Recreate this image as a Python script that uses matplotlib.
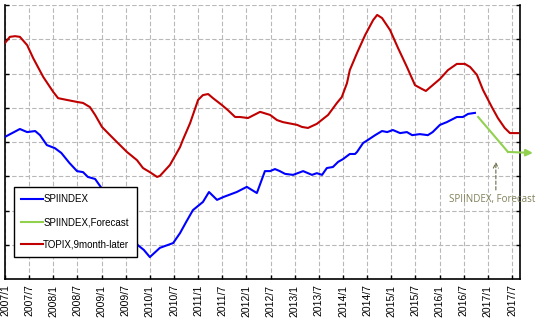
import numpy as np
import matplotlib
matplotlib.use("Agg")
import matplotlib.pyplot as plt

# months counted from 2007/1
spi_month = [0, 3.7, 5.5, 7.5, 8.7, 10.4, 12.4, 14, 16, 17.9, 19.4, 20.6, 22.4, 23.6,
             26, 29, 31, 33, 34.5, 36, 38.5, 41.8, 43.5, 45, 46.7, 49.2, 50.7, 52.7,
             54.2, 57.6, 60.1, 62.6, 64.6, 65.9, 67.1, 68.3, 69.6, 71.6, 74.1, 76.3,
             77.5, 78.8, 80.0, 81.5, 82.8, 84.0, 85.7, 87.0, 87.5, 89.0, 90.2, 92.0,
             93.7, 95.0, 96.4, 98.2, 99.9, 101.2, 103.1, 105.1, 106.3, 108.1, 109.8,
             112.3, 113.8, 115.1, 116.8]
spi_value = [4.15, 4.38, 4.29, 4.32, 4.20, 3.91, 3.82, 3.68, 3.39, 3.15, 3.12, 2.98, 2.92, 2.72,
             2.31, 1.72, 1.37, 0.99, 0.85, 0.64, 0.91, 1.05, 1.34, 1.66, 2.01, 2.25, 2.54, 2.31,
             2.39, 2.54, 2.69, 2.51, 3.15, 3.15, 3.21, 3.15, 3.07, 3.04, 3.15, 3.04,
             3.09, 3.04, 3.24, 3.27, 3.42, 3.50, 3.65, 3.65, 3.71, 3.97, 4.06, 4.20,
             4.32, 4.29, 4.35, 4.26, 4.29, 4.20, 4.23, 4.20, 4.29, 4.50, 4.58,
             4.73, 4.73, 4.82, 4.85]

fc_month = [117.6, 125.0, 131.2]
fc_value = [4.73, 3.71, 3.68]

topix_month = [0, 1.2, 2.5, 3.7, 5.5, 7, 9.5, 12, 13.2, 15.3, 17.9, 19.4, 21.1, 22.4, 24.1,
               26.1, 27.8, 30.3, 32.8, 34.3, 36, 37.8, 38.5, 41, 43.5, 44.2, 46, 48, 49.2,
               50.5, 51.7, 53.9, 55.4, 57.2, 58.4, 60.4, 63.4, 65.9, 67.6, 69.1, 72.6, 73.8,
               75.3, 77.5, 80.3, 82.5, 83.7, 85, 85.7, 87.5, 89.5, 91.5, 92.5, 93.7, 95.7,
               97.7, 99.9, 101.9, 103.6, 104.6, 106.1, 108.1, 110.1, 112.3, 114.3, 115.6,
               117.3, 118.8, 121, 122.5, 124.2, 125.5, 127.5]
topix_value = [6.89, 7.07, 7.09, 7.07, 6.83, 6.45, 5.90, 5.46, 5.28, 5.23, 5.17, 5.14, 5.02, 4.79, 4.44,
               4.20, 4.00, 3.71, 3.47, 3.24, 3.12, 2.98, 3.01, 3.33, 3.85, 4.06, 4.55, 5.23, 5.37,
               5.40, 5.28, 5.08, 4.93, 4.73, 4.73, 4.70, 4.88, 4.79, 4.64, 4.58, 4.50, 4.44,
               4.41, 4.53, 4.79, 5.14, 5.31, 5.72, 6.10, 6.60, 7.12, 7.56, 7.71, 7.62, 7.27,
               6.74, 6.19, 5.66, 5.55, 5.49, 5.64, 5.84, 6.10, 6.28, 6.28, 6.19,
               5.96, 5.52, 5.02, 4.70, 4.41, 4.26, 4.26]

tick_labels = [f"{2007 + i // 2}/{1 if i % 2 == 0 else 7}" for i in range(22)]
tick_pos = [6 * i for i in range(22)]

plt.rcParams['font.family'] = ['Liberation Sans', 'DejaVu Sans']

fig = plt.figure(figsize=(5.37, 3.25), dpi=100)
ax = fig.add_axes([5 / 537, 46 / 325, 515 / 537, 274 / 325])

ax.plot(spi_month, spi_value, color='#0000ff', lw=1.5, label='SPIINDEX', zorder=3)
ax.plot(fc_month[:-1], fc_value[:-1], color='#92d050', lw=1.5, label='SPIINDEX,Forecast',
        zorder=3, clip_on=False)
ax.annotate('', xy=(fc_month[-1], fc_value[-1]), xytext=(fc_month[-2], fc_value[-2]),
            arrowprops=dict(arrowstyle='-|>', color='#92d050', lw=1.5,
                            shrinkA=0, shrinkB=0, mutation_scale=10),
            annotation_clip=False, zorder=3)
ax.plot(topix_month, topix_value, color='#c00000', lw=1.5, label='TOPIX,9month-later', zorder=3)

# forecast note with dashed pointer
ax.text(121.2, 2.33, 'SPIINDEX, Forecast', ha='center', va='center', fontsize=7,
        color='#80805a', family=['Open Sans', 'DejaVu Sans'])
ax.annotate('', xy=(122.0, 3.42), xytext=(122.0, 2.6),
            arrowprops=dict(arrowstyle='->', color='#6b6b45', lw=0.8, ls=(0, (3, 2)),
                            shrinkA=0, shrinkB=0, mutation_scale=9))

ax.set_xlim(0, 128)
ax.set_ylim(0, 8)
ax.set_xticks(tick_pos)
ax.set_xticklabels(tick_labels, rotation=90, fontsize=7.5)
ax.set_yticks(range(1, 9))
ax.set_yticklabels([])
ax.tick_params(axis='both', direction='in', length=3, width=1, color='black')
ax.tick_params(axis='y', right=True)
ax.tick_params(axis='x', pad=4)

ax.grid(True, color='#b8b8b8', lw=0.8, ls=(0, (4, 2)))
ax.spines['top'].set_visible(False)
for s in ['left', 'bottom', 'right']:
    ax.spines[s].set_linewidth(1.2)
    ax.spines[s].set_color('black')

leg = ax.legend(loc='lower left', bbox_to_anchor=(9 / 515, 22 / 274), fontsize=7,
                frameon=True, fancybox=False, edgecolor='black', framealpha=1,
                handlelength=2.2, handletextpad=0.05, labelspacing=1.3, borderpad=0.75,
                borderaxespad=0)
leg.get_frame().set_linewidth(1.0)
leg.set_zorder(5)

plt.savefig('out.png', dpi=100)
plt.close()
